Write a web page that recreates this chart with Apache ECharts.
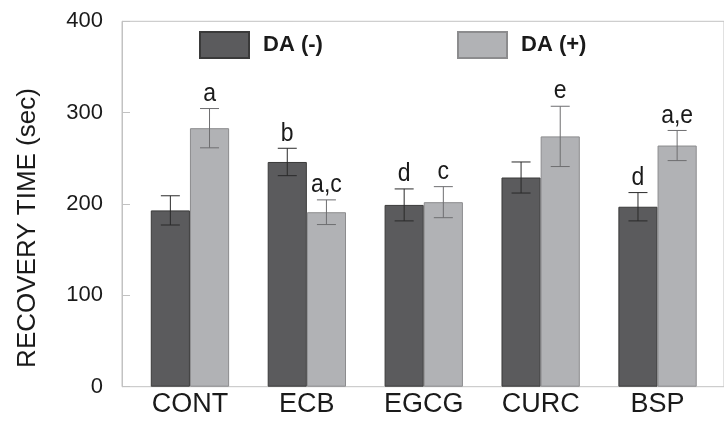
<!DOCTYPE html>
<html><head><meta charset="utf-8">
<script src="https://cdn.jsdelivr.net/npm/echarts@6/dist/echarts.min.js"></script>
<style>html,body{margin:0;padding:0;background:#fff}#c{width:724px;height:427px}</style>
</head><body><div id="c"></div>
<script>
var categories = ['CONT', 'ECB', 'EGCG', 'CURC', 'BSP'];
var seriesNames = ['DA (-)', 'DA (+)'];
var daMinus = [193, 246, 199, 229, 197];
var daMinusErr = [16, 15, 17.5, 17, 15.5];
var daMinusLetters = ['', 'b', 'd', '', 'd'];
var daPlus = [283, 191, 202, 274, 264];
var daPlusErr = [21.5, 13.5, 17, 33, 16.5];
var daPlusLetters = ['a', 'a,c', 'c', 'e', 'a,e'];
var yTicks = [0, 100, 200, 300, 400];
var yTitle = 'RECOVERY TIME (sec)';

var FONT = "'Liberation Sans', Arial, sans-serif";
var GAP = 0.33;
var TOP = 21.3, BOTTOM = 40.3;

function errSeries(vals, errs, letters, side, color) {
  return {
    type: 'custom', xAxisIndex: 1, yAxisIndex: 1, z: 10,
    data: vals.map(function (v, i) { return [i, v, errs[i]]; }),
    renderItem: function (params, api) {
      var i = api.value(0), v = api.value(1), e = api.value(2);
      var letter = letters[params.dataIndex];
      var band = api.size([1, 0])[0];
      var bw = band * (1 - GAP) / 2;
      var c = api.coord([i, v]);
      var x = c[0] + side * bw / 2;
      var hi = api.coord([i, v + e])[1];
      var lo = api.coord([i, v - e])[1];
      var cap = 9.5;
      var st = { stroke: color, lineWidth: 1 };
      var kids = [
        { type: 'line', shape: { x1: x, y1: hi, x2: x, y2: lo }, style: st },
        { type: 'line', shape: { x1: x - cap, y1: hi, x2: x + cap, y2: hi }, style: st },
        { type: 'line', shape: { x1: x - cap, y1: lo, x2: x + cap, y2: lo }, style: st }
      ];
      if (letter) {
        kids.push({ type: 'text', x: x, y: hi - 2, scaleY: 1.12,
          style: { text: letter, x: 0, y: 0, textAlign: 'center', textVerticalAlign: 'bottom', font: '23px ' + FONT, fill: '#1a1a1a' } });
      }
      return { type: 'group', children: kids };
    }
  };
}

var chart = echarts.init(document.getElementById('c'), null, { renderer: 'canvas' });
chart.setOption({
  animation: false,
  backgroundColor: '#fff',
  grid: [
    { left: 122, right: -3, top: TOP, bottom: BOTTOM, show: true, borderColor: '#c2c2c2', borderWidth: 1, backgroundColor: 'transparent' },
    { left: 131.5, right: 8, top: TOP, bottom: BOTTOM }
  ],
  xAxis: [
    { gridIndex: 0, type: 'value', min: 0, max: 1, show: false },
    { gridIndex: 1, type: 'category', data: categories,
      axisLine: { show: false }, axisTick: { show: false },
      axisLabel: { fontFamily: FONT, fontSize: 27, color: '#1a1a1a', margin: 4 } }
  ],
  yAxis: [
    { gridIndex: 0, type: 'value', min: yTicks[0], max: yTicks[yTicks.length - 1], interval: 100,
      axisLine: { show: true, lineStyle: { color: '#c2c2c2' } },
      axisTick: { show: true, inside: true, length: 8, lineStyle: { color: '#c2c2c2' } },
      splitLine: { show: false },
      axisLabel: { fontFamily: FONT, fontSize: 22, color: '#1a1a1a', margin: 19, padding: [4, 0, 0, 0] } },
    { gridIndex: 1, type: 'value', min: yTicks[0], max: yTicks[yTicks.length - 1], show: false }
  ],
  legend: [
    { left: 194, top: 26, data: [seriesNames[0]], icon: 'rect', itemWidth: 49, itemHeight: 26,
      textStyle: { fontFamily: FONT, fontSize: 22, fontWeight: 'bold', color: '#1a1a1a', padding: [14, 0, 0, 9] } },
    { left: 452, top: 26, data: [seriesNames[1]], icon: 'rect', itemWidth: 49, itemHeight: 26,
      textStyle: { fontFamily: FONT, fontSize: 22, fontWeight: 'bold', color: '#1a1a1a', padding: [14, 0, 0, 9] } }
  ],
  graphic: [
    { type: 'text', x: 28, y: 228, rotation: Math.PI / 2,
      style: { text: yTitle, textAlign: 'center', textVerticalAlign: 'middle', font: '26px ' + FONT, fill: '#1a1a1a' } }
  ],
  series: [
    { name: seriesNames[0], type: 'bar', xAxisIndex: 1, yAxisIndex: 1, data: daMinus,
      barGap: '0%', barCategoryGap: (GAP * 100) + '%',
      itemStyle: { color: '#5b5b5d', borderColor: '#3a3a3a', borderWidth: 1 } },
    { name: seriesNames[1], type: 'bar', xAxisIndex: 1, yAxisIndex: 1, data: daPlus,
      barGap: '0%', barCategoryGap: (GAP * 100) + '%',
      itemStyle: { color: '#b1b2b5', borderColor: '#8c8c8e', borderWidth: 1 } },
    errSeries(daMinus, daMinusErr, daMinusLetters, -1, '#2a2a2a'),
    errSeries(daPlus, daPlusErr, daPlusLetters, 1, '#6e6e70')
  ]
});
</script></body></html>
